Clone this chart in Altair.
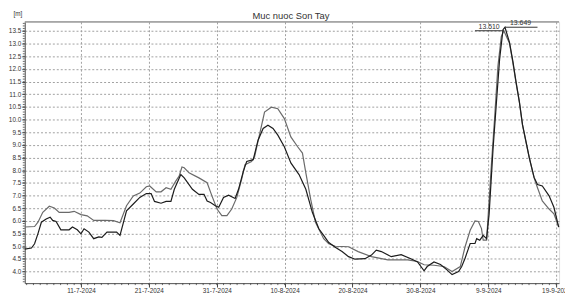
import altair as alt
import pandas as pd

# ---- data ----
a_dates = ["2024-07-02 17:00","2024-07-04 04:00","2024-07-04 16:00","2024-07-05 09:00","2024-07-06 08:00",
           "2024-07-07 02:00","2024-07-07 19:00","2024-07-09 06:00","2024-07-10 00:00","2024-07-11 00:00",
           "2024-07-11 22:00","2024-07-12 21:00","2024-07-14 14:00","2024-07-15 19:00","2024-07-16 18:00",
           "2024-07-17 17:00","2024-07-18 17:00","2024-07-19 16:00","2024-07-20 15:00","2024-07-21 03:00",
           "2024-07-22 02:00","2024-07-22 19:00","2024-07-23 13:00","2024-07-24 06:00","2024-07-24 23:00",
           "2024-07-25 11:00","2024-07-25 21:00","2024-07-26 05:00","2024-07-26 22:00","2024-07-28 09:00",
           "2024-07-29 14:00","2024-07-30 07:00","2024-07-31 01:00","2024-07-31 18:00","2024-08-01 12:00",
           "2024-08-02 05:00","2024-08-02 23:00","2024-08-03 16:00","2024-08-04 04:00","2024-08-05 03:00",
           "2024-08-05 14:00","2024-08-06 08:00","2024-08-07 01:00","2024-08-08 01:00","2024-08-09 00:00",
           "2024-08-09 23:00","2024-08-10 22:00","2024-08-11 22:00","2024-08-12 15:00","2024-08-13 03:00",
           "2024-08-13 20:00","2024-08-14 13:00","2024-08-15 18:00","2024-08-16 12:00","2024-08-17 11:00",
           "2024-08-19 10:00","2024-08-20 20:00","2024-08-22 19:00","2024-08-25 05:00","2024-08-28 03:00",
           "2024-08-29 14:00","2024-08-30 13:00","2024-09-01 00:00","2024-09-02 11:00","2024-09-03 16:00",
           "2024-09-04 21:00","2024-09-05 14:00","2024-09-06 08:00","2024-09-07 01:00","2024-09-07 13:00",
           "2024-09-08 00:00","2024-09-08 06:00","2024-09-08 18:00","2024-09-09 00:00","2024-09-09 11:00",
           "2024-09-09 23:00","2024-09-10 10:00","2024-09-10 22:00","2024-09-11 07:00","2024-09-12 03:00",
           "2024-09-12 15:00","2024-09-13 02:00","2024-09-13 14:00","2024-09-14 01:00","2024-09-14 13:00",
           "2024-09-15 01:00","2024-09-15 18:00","2024-09-16 06:00","2024-09-16 23:00","2024-09-17 23:00",
           "2024-09-18 16:00","2024-09-19 09:00"]
a_vals = [5.76,5.78,5.95,6.34,6.58,
          6.51,6.34,6.34,6.38,6.25,
          6.20,6.02,6.02,6.01,5.93,
          6.60,6.99,7.10,7.35,7.38,
          7.15,7.15,7.31,7.25,7.57,
          7.77,8.13,8.10,7.90,7.70,
          7.51,6.99,6.47,6.21,6.21,
          6.47,6.93,7.64,8.22,8.35,
          8.54,9.45,10.30,10.49,10.43,
          10.04,9.32,8.93,8.68,7.90,
          6.86,5.95,5.30,5.10,5.00,
          4.98,4.79,4.59,4.46,4.46,
          4.40,4.27,4.25,4.20,4.00,
          4.20,4.98,5.63,6.00,5.98,
          5.70,5.24,5.24,6.28,8.22,
          10.17,12.11,13.28,13.51,13.02,
          12.24,11.46,10.68,9.78,9.13,
          8.48,7.70,7.31,6.79,6.47,
          6.28,5.76]

b_dates = ["2024-07-02 17:00","2024-07-03 17:00","2024-07-04 04:00","2024-07-04 16:00","2024-07-05 04:00",
           "2024-07-05 21:00","2024-07-06 11:00","2024-07-06 20:00","2024-07-07 08:00","2024-07-08 01:00",
           "2024-07-09 06:00","2024-07-09 18:00","2024-07-10 11:00","2024-07-11 00:00","2024-07-11 11:00",
           "2024-07-12 04:00","2024-07-12 21:00","2024-07-13 15:00","2024-07-14 02:00","2024-07-14 20:00",
           "2024-07-16 06:00","2024-07-16 18:00","2024-07-17 17:00","2024-07-18 17:00","2024-07-19 16:00",
           "2024-07-20 15:00","2024-07-21 08:00","2024-07-21 20:00","2024-07-22 19:00","2024-07-23 13:00",
           "2024-07-24 06:00","2024-07-24 18:00","2024-07-25 17:00","2024-07-26 05:00","2024-07-27 10:00",
           "2024-07-28 09:00","2024-07-29 03:00","2024-07-29 14:00","2024-07-30 02:00","2024-07-30 19:00",
           "2024-07-31 07:00","2024-08-01 00:00","2024-08-01 18:00","2024-08-02 17:00","2024-08-03 05:00",
           "2024-08-03 22:00","2024-08-04 10:00","2024-08-05 09:00","2024-08-06 02:00","2024-08-06 20:00",
           "2024-08-07 13:00","2024-08-08 07:00","2024-08-09 00:00","2024-08-09 23:00","2024-08-10 22:00",
           "2024-08-12 03:00","2024-08-13 03:00","2024-08-14 02:00","2024-08-15 01:00","2024-08-15 18:00",
           "2024-08-16 12:00","2024-08-17 11:00","2024-08-18 11:00","2024-08-19 10:00","2024-08-20 09:00",
           "2024-08-21 20:00","2024-08-22 19:00","2024-08-23 12:00","2024-08-24 06:00","2024-08-25 17:00",
           "2024-08-27 04:00","2024-08-28 14:00","2024-08-29 14:00","2024-08-30 13:00","2024-08-31 00:00",
           "2024-09-01 00:00","2024-09-01 23:00","2024-09-02 22:00","2024-09-03 16:00","2024-09-04 15:00",
           "2024-09-05 02:00","2024-09-05 14:00","2024-09-06 08:00","2024-09-07 01:00","2024-09-07 07:00",
           "2024-09-07 18:00","2024-09-08 06:00","2024-09-08 18:00","2024-09-09 03:00","2024-09-09 17:00",
           "2024-09-10 04:00","2024-09-10 16:00","2024-09-11 04:00","2024-09-11 11:00","2024-09-12 03:00",
           "2024-09-12 15:00","2024-09-13 02:00","2024-09-13 14:00","2024-09-14 01:00","2024-09-14 13:00",
           "2024-09-15 01:00","2024-09-15 18:00","2024-09-16 06:00","2024-09-16 23:00","2024-09-17 23:00",
           "2024-09-18 16:00","2024-09-19 09:00"]
b_vals = [4.89,4.93,5.10,5.50,5.95,
          6.08,6.15,6.02,5.98,5.65,
          5.65,5.76,5.65,5.49,5.69,
          5.56,5.30,5.37,5.35,5.56,
          5.56,5.43,6.40,6.67,6.93,
          7.08,7.08,6.77,6.70,6.77,
          6.77,7.25,7.83,7.70,7.25,
          7.05,7.05,6.79,6.73,6.60,
          6.54,6.93,7.02,6.89,7.25,
          7.96,8.35,8.42,9.19,9.65,
          9.78,9.65,9.39,8.93,8.29,
          7.83,7.25,6.34,5.69,5.43,
          5.15,4.96,4.79,4.59,4.49,
          4.51,4.65,4.85,4.79,4.59,
          4.67,4.51,4.38,4.03,4.20,
          4.38,4.28,4.07,3.88,4.00,
          4.20,4.53,5.11,5.11,5.30,
          5.24,5.43,5.30,6.28,8.87,
          10.56,12.38,13.55,13.649,13.05,
          12.30,11.50,10.70,9.80,9.15,
          8.50,7.72,7.44,7.38,6.99,
          6.54,5.76]

x_tick_dates = ["2024-07-11","2024-07-21","2024-07-31","2024-08-10",
                "2024-08-20","2024-08-30","2024-09-09","2024-09-19"]
y_ticks = [4.0,4.5,5.0,5.5,6.0,6.5,7.0,7.5,8.0,8.5,9.0,9.5,10.0,10.5,11.0,11.5,12.0,12.5,13.0,13.5]
title_text = "Muc nuoc Son Tay"
unit_text = "[m]"

# ---- tables ----
df = pd.concat([
    pd.DataFrame({"t": pd.to_datetime(a_dates), "v": a_vals, "s": "A"}),
    pd.DataFrame({"t": pd.to_datetime(b_dates), "v": b_vals, "s": "B"}),
])
df["t"] = df["t"].dt.strftime("%Y-%m-%dT%H:%M:%S")

W, H = 542, 265
x_dom = ["2024-07-02T17:17:00", "2024-09-19T10:19:00"]
y_dom = [3.545, 13.86]

x_ticks_dt = [alt.DateTime(year=int(d[:4]), month=int(d[5:7]), date=int(d[8:10])) for d in x_tick_dates]

xs = alt.Scale(domain=x_dom, nice=False)
ys = alt.Scale(domain=y_dom, nice=False, zero=False)

FONT = "Liberation Sans"
GRID = "#a0a0a0"

ax_x = alt.Axis(
    title=None, values=x_ticks_dt, format="%-d-%-m-%Y", labelFontSize=6.5, labelFont=FONT,
    labelColor="#333", tickSize=4, tickColor="#444", domainColor="#555", labelPadding=1,
    grid=True, gridColor=GRID, gridDash=[2, 2], gridWidth=1, labelFlush=False, labelOverlap=False)
ax_y = alt.Axis(
    title=None, values=y_ticks, format=".1f", labelFontSize=6.5, labelFont=FONT,
    labelColor="#333", tickSize=3, tickColor="#444", domainColor="#555", labelPadding=1,
    labelOverlap=False, labelFlush=False,
    grid=True, gridColor=GRID, gridDash=[2, 2], gridWidth=1)


def X(f):
    return alt.X(f, scale=xs, axis=ax_x)


def Y(f):
    return alt.Y(f, scale=ys, axis=ax_y)


lines = alt.Chart(df).mark_line(strokeWidth=1.2, interpolate="linear").encode(
    x=X("t:T"), y=Y("v:Q"),
    color=alt.Color("s:N", scale=alt.Scale(domain=["A", "B"], range=["#6a6a6a", "#1c1c1c"]), legend=None),
)

# minor ticks
ymin = pd.DataFrame({"v": [round(3.6 + 0.1 * i, 1) for i in range(103)]})
yminor = alt.Chart(ymin).mark_rule(color="#444", strokeWidth=0.8).encode(
    y=Y("v:Q"), x=alt.value(-2), x2=alt.value(0))
xmin = pd.DataFrame({"t": pd.date_range("2024-07-03", "2024-09-19", freq="D").strftime("%Y-%m-%dT%H:%M:%S")})
xminor = alt.Chart(xmin).mark_rule(color="#444", strokeWidth=0.8).encode(
    x=X("t:T"), y=alt.value(H), y2=alt.value(H + 2))

top = alt.Chart(pd.DataFrame({"k": [0]})).mark_rule(color="#8a8a8a", strokeWidth=1.5).encode(
    x=alt.value(0), x2=alt.value(W), y=alt.value(0))

# peak annotations
ia = int(pd.Series(a_vals).idxmax())
ib = int(pd.Series(b_vals).idxmax())
pa_t = pd.Timestamp(a_dates[ia]); pb_t = pd.Timestamp(b_dates[ib])
fmt = "%Y-%m-%dT%H:%M:%S"
ann_rules = pd.DataFrame({
    "t1": [(pa_t - pd.Timedelta(hours=102)).strftime(fmt), pb_t.strftime(fmt)],
    "t2": [pa_t.strftime(fmt), (pb_t + pd.Timedelta(hours=115)).strftime(fmt)],
    "v": [a_vals[ia], b_vals[ib]],
})
ann_text = pd.DataFrame({
    "t": [(pa_t - pd.Timedelta(hours=52)).strftime(fmt), (pb_t + pd.Timedelta(hours=55)).strftime(fmt)],
    "v": [a_vals[ia], b_vals[ib]],
    "lab": [f"{a_vals[ia]:.3f}", f"{b_vals[ib]:.3f}"],
})
arules = alt.Chart(ann_rules).mark_rule(color="#333", strokeWidth=1).encode(
    x=X("t1:T"), x2="t2:T", y=Y("v:Q"))
atext = alt.Chart(ann_text).mark_text(fontSize=7, font=FONT, color="#333", baseline="bottom", dy=-1).encode(
    x=X("t:T"), y=Y("v:Q"), text="lab:N")

unit = alt.Chart(pd.DataFrame({"lab": [unit_text]})).mark_text(
    fontSize=6.5, font=FONT, color="#333", align="center", baseline="middle").encode(
    x=alt.value(-7), y=alt.value(-8), text="lab:N")

title = alt.Chart(pd.DataFrame({"lab": [title_text]})).mark_text(
    fontSize=9.5, font=FONT, color="#333", align="center", baseline="middle").encode(
    x=alt.value(W / 2 - 1), y=alt.value(-6), text="lab:N")

chart = alt.layer(lines, yminor, xminor, top, arules, atext, unit, title).properties(
    width=W, height=H,
    padding={"left": 17, "top": 12, "right": 6, "bottom": 12},
    autosize=alt.AutoSizeParams(type="none"),
).configure_view(stroke=None).configure(background="white")

chart.save("out.html", embed_options={"renderer": "svg", "actions": False})
